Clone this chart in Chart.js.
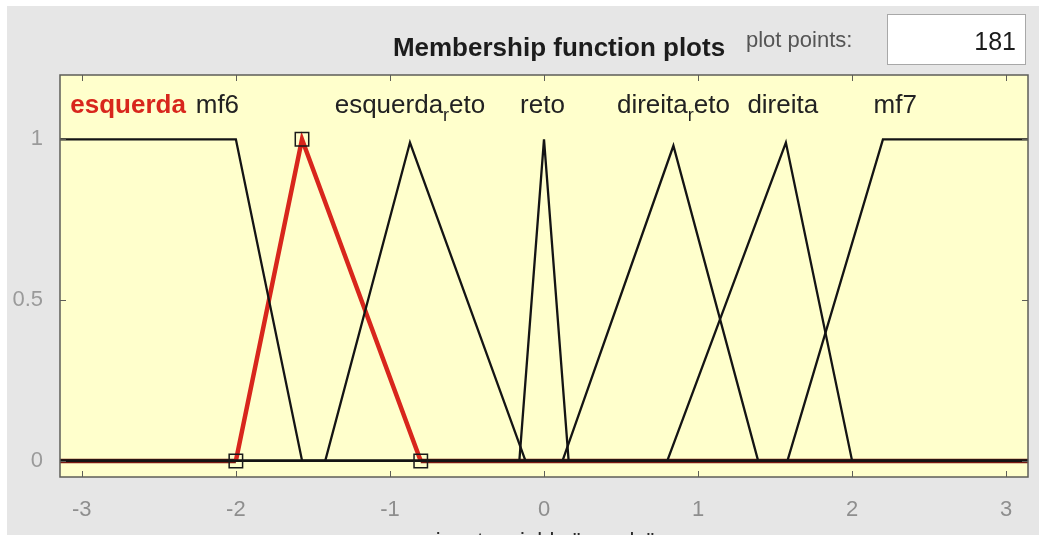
<!DOCTYPE html>
<html>
<head>
<meta charset="utf-8">
<script src="https://cdn.jsdelivr.net/npm/chart.js@4.4.1/dist/chart.umd.min.js"></script>
<style>
  html, body { margin: 0; padding: 0; background: #fff; overflow: hidden; }
  body { width: 1039px; height: 535px; position: relative; font-family: "Liberation Sans", Arial, sans-serif; }
  #panel { position: absolute; left: 7px; top: 6px; width: 1032px; height: 529px; background: #e6e6e6; }
  #plot { position: absolute; left: 0; top: 0; }
  #title { position: absolute; left: 359px; top: 33px; width: 400px; text-align: center;
           font-weight: bold; font-size: 26px; line-height: 28px; color: #1c1c1c; }
  #pointsLabel { position: absolute; left: 746px; top: 28px; font-size: 22px; line-height: 24px; color: #555; }
  #pointsBox { position: absolute; left: 887px; top: 14px; width: 139px; height: 51px; background: #fff;
               border: 1px solid #a8a8a8; box-sizing: border-box; text-align: right; padding-right: 9px;
               font-size: 25px; line-height: 52px; color: #1c1c1c; }
  #xTitle { position: absolute; left: 345px; top: 529px; width: 400px; text-align: center;
            font-size: 22px; line-height: 24px; color: #2a2a2a; }
</style>
</head>
<body>
<div id="panel"></div>
<canvas id="plot" width="1039" height="535"></canvas>
<div id="title">Membership function plots</div>
<div id="pointsLabel">plot points:</div>
<div id="pointsBox">181</div>
<div id="xTitle">input variable "angulo"</div>
<script>
// axis range and ticks
const xMin = -3.1416;
const xMax = 3.1416;
const yMin = -0.05;
const yMax = 1.2;
const xTicks = [-3, -2, -1, 0, 1, 2, 3];
const yTicks = [0, 0.5, 1];
const yTickLabels = ['0', '0.5', '1'];

// membership function names (tex style: "_r" is a subscript)
const mfNames = ['esquerda', 'mf6', 'esquerda_reto', 'reto', 'direita_reto', 'direita', 'mf7'];

// breakpoints of each membership function
const mf6X = [-3.1416, -2.0, -1.57, 3.1416];
const mf6Y = [1, 1, 0, 0];
const esquerdaX = [-3.1416, -2.0, -1.5708, -0.8, 3.1416];
const esquerdaY = [0, 0, 1, 0, 0];
const esquerdaRetoX = [-3.1416, -1.42, -0.87, -0.12, 3.1416];
const esquerdaRetoY = [0, 0, 0.99, 0, 0];
const retoX = [-3.1416, -0.16, 0, 0.16, 3.1416];
const retoY = [0, 0, 1, 0, 0];
const direitaRetoX = [-3.1416, 0.12, 0.84, 1.39, 3.1416];
const direitaRetoY = [0, 0, 0.98, 0, 0];
const direitaX = [-3.1416, 0.8, 1.57, 2.0, 3.1416];
const direitaY = [0, 0, 0.99, 0, 0];
const mf7X = [-3.1416, 1.58, 2.2, 3.1416];
const mf7Y = [0, 0, 1, 1];

// vertices of the selected function (esquerda) shown with square handles
const handleX = [-2.0, -1.5708, -0.8];
const handleY = [0, 1, 0];

const toPoints = (xs, ys) => xs.map((x, i) => ({ x: x, y: ys[i] }));

const PLOT_BG = '#ffffcc';
const SELECTED = '#d8261c';
const SELECTED_FLAT = '#7a1812';
const LINE = '#141414';
const FONT = '"Liberation Sans", Arial, sans-serif';

function blackMf(pts) {
    return { data: pts, borderColor: LINE, borderWidth: 2.3, pointRadius: 0, tension: 0, order: 2 };
}

// label anchors along x, in data units
const labelAnchors = [-2.70, -2.12, -0.87, -0.01, 0.84, 1.55, 2.28];

function drawTexLabel(ctx, text, cx, baseline, font, subFont) {
    const pieces = text.split('_');
    const parts = [{ s: pieces[0], sub: false }];
    for (let i = 1; i < pieces.length; i++) {
        parts.push({ s: pieces[i].charAt(0), sub: true });
        if (pieces[i].length > 1) parts.push({ s: pieces[i].slice(1), sub: false });
    }
    let total = 0;
    parts.forEach(p => {
        ctx.font = p.sub ? subFont : font;
        p.w = ctx.measureText(p.s).width;
        total += p.w;
    });
    let x = cx - total / 2;
    ctx.textAlign = 'left';
    ctx.textBaseline = 'alphabetic';
    parts.forEach(p => {
        ctx.font = p.sub ? subFont : font;
        ctx.fillText(p.s, x, p.sub ? baseline + 8 : baseline);
        x += p.w;
    });
}

const mfDecor = {
    id: 'mfDecor',
    beforeDraw(chart) {
        const a = chart.chartArea;
        const ctx = chart.ctx;
        ctx.save();
        ctx.fillStyle = PLOT_BG;
        ctx.fillRect(a.left, a.top, a.right - a.left, a.bottom - a.top);
        ctx.restore();
    },
    afterDraw(chart) {
        const a = chart.chartArea;
        const ctx = chart.ctx;
        const xs = chart.scales.x;
        const ys = chart.scales.y;
        ctx.save();
        // axes box
        ctx.strokeStyle = '#5e5e58';
        ctx.lineWidth = 1.5;
        ctx.strokeRect(a.left, a.top, a.right - a.left, a.bottom - a.top);
        // inward tick marks
        ctx.lineWidth = 1;
        ctx.beginPath();
        xTicks.forEach(v => {
            const px = Math.round(xs.getPixelForValue(v)) + 0.5;
            ctx.moveTo(px, a.bottom); ctx.lineTo(px, a.bottom - 6);
            ctx.moveTo(px, a.top); ctx.lineTo(px, a.top + 6);
        });
        yTicks.forEach(v => {
            const py = Math.round(ys.getPixelForValue(v)) + 0.5;
            ctx.moveTo(a.left, py); ctx.lineTo(a.left + 6, py);
            ctx.moveTo(a.right, py); ctx.lineTo(a.right - 6, py);
        });
        ctx.stroke();
        // membership function names
        mfNames.forEach((name, i) => {
            const cx = xs.getPixelForValue(labelAnchors[i]);
            const selected = name === 'esquerda';
            ctx.fillStyle = selected ? SELECTED : '#222';
            const font = (selected ? 'bold ' : '') + '26px ' + FONT;
            drawTexLabel(ctx, name, cx, 113, font, '18px ' + FONT);
        });
        ctx.restore();
    }
};

new Chart(document.getElementById('plot'), {
    type: 'line',
    data: {
        datasets: [
            { data: toPoints(handleX, handleY), showLine: false, pointStyle: 'rect', pointRadius: 9.5,
              pointBorderColor: '#1a1a1a', pointBackgroundColor: 'rgba(0,0,0,0)', pointBorderWidth: 1.5, order: 0 },
            blackMf(toPoints(mf6X, mf6Y)),
            blackMf(toPoints(esquerdaRetoX, esquerdaRetoY)),
            blackMf(toPoints(retoX, retoY)),
            blackMf(toPoints(direitaRetoX, direitaRetoY)),
            blackMf(toPoints(direitaX, direitaY)),
            blackMf(toPoints(mf7X, mf7Y)),
            { data: toPoints(esquerdaX, esquerdaY), borderColor: SELECTED, borderWidth: 4.5,
              pointRadius: 0, tension: 0, order: 3,
              // flat stretches of the selected function sit under the other curves' zero line
              segment: { borderColor: c => (c.p0.parsed.y === 0 && c.p1.parsed.y === 0) ? SELECTED_FLAT : undefined } }
        ]
    },
    options: {
        responsive: false,
        animation: false,
        layout: { padding: { left: 0, top: 75, right: 8, bottom: 0 } },
        plugins: { legend: { display: false }, tooltip: { enabled: false }, title: { display: false } },
        scales: {
            x: {
                type: 'linear', min: xMin, max: xMax,
                grid: { display: false, drawTicks: false },
                border: { display: false },
                afterBuildTicks: s => { s.ticks = xTicks.map(v => ({ value: v })); },
                afterFit: s => { s.height = 58; },
                ticks: { color: '#8e8e8e', padding: 20, maxRotation: 0,
                         font: { family: FONT, size: 22 }, callback: v => String(v) }
            },
            y: {
                min: yMin, max: yMax,
                grid: { display: false, drawTicks: false },
                border: { display: false },
                afterBuildTicks: s => { s.ticks = yTicks.map(v => ({ value: v })); },
                afterFit: s => { s.width = 60; },
                ticks: { color: '#9a9a9a', padding: 17,
                         font: { family: FONT, size: 22 },
                         callback: v => yTickLabels[yTicks.indexOf(v)] }
            }
        }
    },
    plugins: [mfDecor]
});
</script>
</body>
</html>
